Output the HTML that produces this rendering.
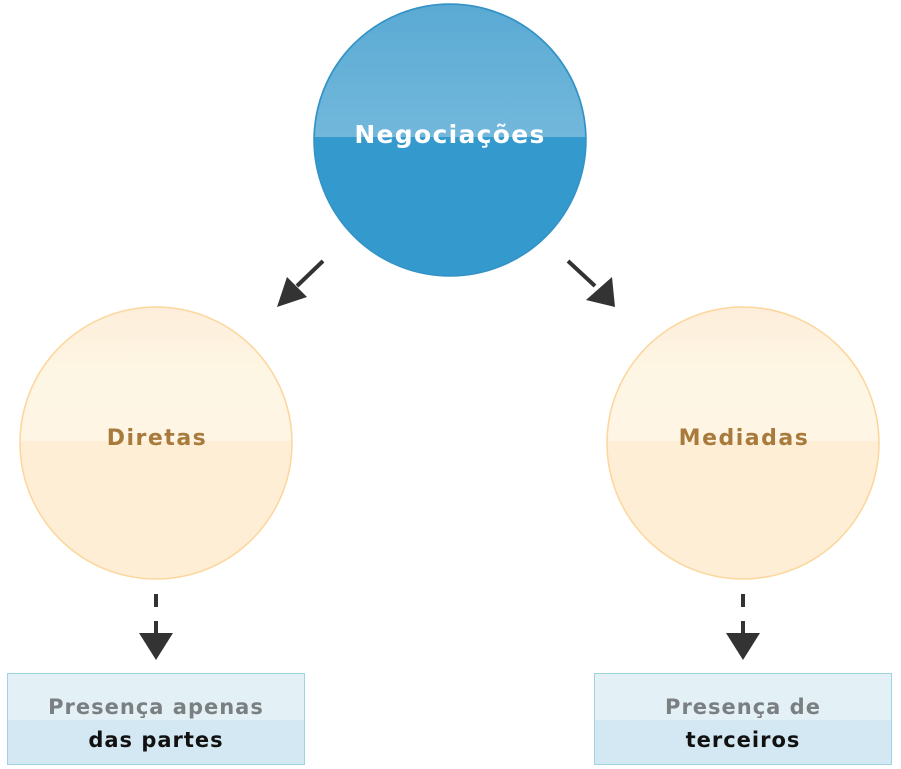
<!DOCTYPE html>
<html><head><meta charset="utf-8"><style>
html,body{margin:0;padding:0;background:#fff;width:901px;height:769px;overflow:hidden}
svg{display:block}
text{font-family:"DejaVu Sans","Liberation Sans",sans-serif;font-weight:bold}
</style></head><body>
<svg width="901" height="769" viewBox="0 0 901 769" xmlns="http://www.w3.org/2000/svg">
<defs>
<clipPath id="ct"><rect x="300" y="0" width="300" height="137"/></clipPath>
<clipPath id="cl"><rect x="0" y="300" width="320" height="141"/></clipPath>
<clipPath id="cr"><rect x="590" y="300" width="310" height="141"/></clipPath>
<linearGradient id="gb" x1="0" y1="0" x2="0" y2="1"><stop offset="0" stop-color="#5aaad4"/><stop offset="1" stop-color="#8cc6e3"/></linearGradient>
<linearGradient id="go" x1="0" y1="0" x2="0" y2="1"><stop offset="0" stop-color="#fdeedb"/><stop offset="0.25" stop-color="#fef6e4"/><stop offset="1" stop-color="#fdf2e4"/></linearGradient>
</defs>
<circle cx="450" cy="140" r="136" fill="#3499cc" stroke="#3392c6" stroke-width="1.5"/>
<circle cx="450" cy="140" r="135" fill="url(#gb)" clip-path="url(#ct)"/>
<text x="450" y="143" text-anchor="middle" font-size="25" fill="#fff" letter-spacing="1.3">Negociações</text>
<circle cx="156" cy="443" r="136" fill="#feeed6" stroke="#fcd69c" stroke-width="1.5"/>
<circle cx="156" cy="443" r="135" fill="url(#go)" clip-path="url(#cl)"/>
<text x="157" y="445" text-anchor="middle" font-size="22" fill="#a87b3c" letter-spacing="1.5">Diretas</text>
<circle cx="743" cy="443" r="136" fill="#feeed6" stroke="#fcd69c" stroke-width="1.5"/>
<circle cx="743" cy="443" r="135" fill="url(#go)" clip-path="url(#cr)"/>
<text x="744" y="445" text-anchor="middle" font-size="22" fill="#a87b3c" letter-spacing="1.5">Mediadas</text>
<line x1="323" y1="261" x2="297" y2="286" stroke="#333" stroke-width="4"/>
<polygon points="277,307 287,277 307,297" fill="#333"/>
<line x1="568" y1="261" x2="595" y2="286" stroke="#333" stroke-width="4"/>
<polygon points="615,307 586,300 612,277" fill="#333"/>
<line x1="156" y1="594" x2="156" y2="607" stroke="#333" stroke-width="4"/>
<line x1="156" y1="621" x2="156" y2="636" stroke="#333" stroke-width="4"/>
<polygon points="139,633 173,633 156,660" fill="#333"/>
<line x1="743" y1="594" x2="743" y2="607" stroke="#333" stroke-width="4"/>
<line x1="743" y1="621" x2="743" y2="636" stroke="#333" stroke-width="4"/>
<polygon points="726,633 760,633 743,660" fill="#333"/>
<rect x="7.5" y="673.5" width="297" height="91" fill="#d3e8f3" stroke="#9ed3df"/>
<rect x="8" y="674" width="296" height="46" fill="#e3f1f7"/>
<text x="156" y="714" text-anchor="middle" font-size="21" fill="#7a7f82" letter-spacing="1">Presença apenas</text>
<text x="156" y="747" text-anchor="middle" font-size="21" fill="#111" letter-spacing="1">das partes</text>
<rect x="594.5" y="673.5" width="297" height="91" fill="#d3e8f3" stroke="#9ed3df"/>
<rect x="595" y="674" width="296" height="46" fill="#e3f1f7"/>
<text x="743" y="714" text-anchor="middle" font-size="21" fill="#7a7f82" letter-spacing="1">Presença de</text>
<text x="743" y="747" text-anchor="middle" font-size="21" fill="#111" letter-spacing="1">terceiros</text>
</svg>
</body></html>
